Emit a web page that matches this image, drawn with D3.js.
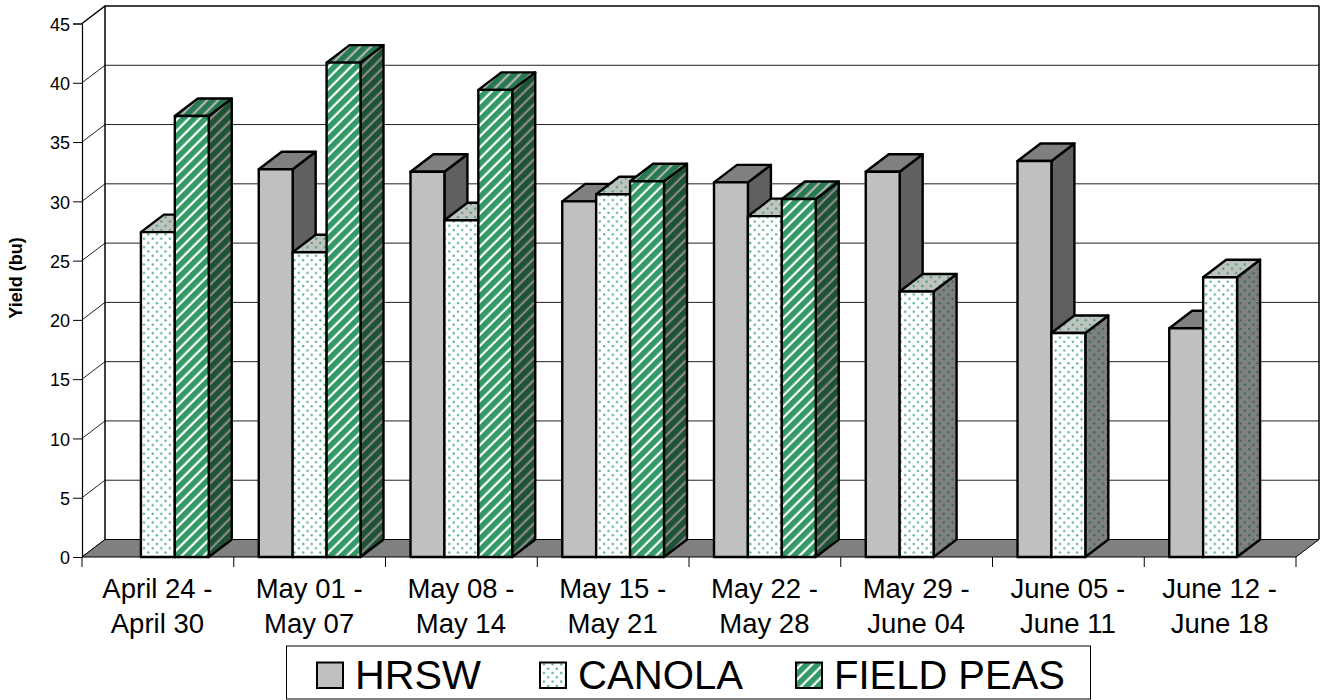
<!DOCTYPE html>
<html>
<head>
<meta charset="utf-8">
<script src="https://cdn.jsdelivr.net/npm/d3@7"></script>
<style>
  body { margin: 0; background: #fff; }
  text { font-family: "Liberation Sans", Arial, sans-serif; fill: #000; }
</style>
</head>
<body>
<svg id="chart" width="1320" height="700"></svg>
<script>
// Values
const categories = [
    ['April 24 -', 'April 30'], ['May 01 -', 'May 07'], ['May 08 -', 'May 14'], ['May 15 -', 'May 21'],
    ['May 22 -', 'May 28'], ['May 29 -', 'June 04'], ['June 05 -', 'June 11'], ['June 12 -', 'June 18']
];
const seriesNames = ['HRSW', 'CANOLA', 'FIELD PEAS'];
const hrsw = [null, 32.7, 32.5, 30, 31.6, 32.5, 33.4, 19.3];
const canola = [27.4, 25.7, 28.4, 30.6, 28.75, 22.4, 18.9, 23.6];
const fieldPeas = [37.2, 41.7, 39.4, 31.7, 30.2, null, null, null];
const yTicks = [0, 5, 10, 15, 20, 25, 30, 35, 40, 45];

const seriesValues = [hrsw, canola, fieldPeas];

const svg = d3.select('#chart');
const defs = svg.append('defs');

// Offset of the back plane from the front plane
const depthX = 23;
const depthY = 17.5;

const x = d3.scaleBand().domain(d3.range(categories.length)).range([82, 1296]);
const y = d3.scaleLinear().domain([0, 45]).range([557, 23.5]);
const inner = d3.scaleBand().domain(d3.range(seriesNames.length)).range([25, x.bandwidth() - 25]);

// Fill patterns
function dotPattern(id, bg, dot) {
    const p = defs.append('pattern').attr('id', id)
        .attr('patternUnits', 'userSpaceOnUse').attr('width', 8.6).attr('height', 8.6);
    p.append('rect').attr('width', 8.6).attr('height', 8.6).attr('fill', bg);
    [[2.15, 2.15], [6.45, 6.45]].forEach(c => {
        p.append('circle').attr('cx', c[0]).attr('cy', c[1]).attr('r', 1.15).attr('fill', dot);
    });
}
function stripePattern(id, bg, stripe) {
    const p = defs.append('pattern').attr('id', id)
        .attr('patternUnits', 'userSpaceOnUse').attr('width', 7.8).attr('height', 7.8)
        .attr('patternTransform', 'rotate(45)');
    p.append('rect').attr('width', 7.8).attr('height', 7.8).attr('fill', bg);
    p.append('rect').attr('width', 5.6).attr('height', 7.8).attr('fill', stripe);
}
dotPattern('canolaFront', '#ffffff', '#4fae80');
dotPattern('canolaTop', '#bfc4c0', '#4f9a72');
dotPattern('canolaSide', '#808080', '#2c6e4c');
stripePattern('peasFront', '#ffffff', '#339966');
stripePattern('peasTop', '#b4b4b4', '#277a50');
stripePattern('peasSide', '#8a8a8a', '#1d5235');

const fills = [
    { front: '#c0c0c0', top: '#808080', side: '#606060' },
    { front: 'url(#canolaFront)', top: 'url(#canolaTop)', side: 'url(#canolaSide)' },
    { front: 'url(#peasFront)', top: 'url(#peasTop)', side: 'url(#peasSide)' }
];

const x0 = x.range()[0];
const x1 = x.range()[1];
const y0 = y(0);

// Gridlines along the left and back walls
yTicks.forEach(t => {
    svg.append('path')
        .attr('d', `M${x0},${y(t)}L${x0 + depthX},${y(t) - depthY}L${x1 + depthX},${y(t) - depthY}`)
        .attr('fill', 'none').attr('stroke', t === 45 ? '#000' : '#222')
        .attr('stroke-width', t === 45 ? 1.5 : 1);
});

// Wall edges
svg.append('path')
    .attr('d', `M${x0 + depthX},${y(45) - depthY}V${y0 - depthY}`)
    .attr('stroke', '#000').attr('stroke-width', 1.5);
svg.append('path')
    .attr('d', `M${x1 + depthX},${y(45) - depthY}V${y0 - depthY}`)
    .attr('stroke', '#000').attr('stroke-width', 1.5);

// Floor
svg.append('path')
    .attr('d', `M${x0},${y0}L${x0 + depthX},${y0 - depthY}H${x1 + depthX}L${x1},${y0}Z`)
    .attr('fill', '#808080');
svg.append('path')
    .attr('d', `M${x0},${y0}L${x0 + depthX},${y0 - depthY}H${x1 + depthX}L${x1},${y0}`)
    .attr('fill', 'none').attr('stroke', '#000').attr('stroke-width', 1);

// Bars, left to right so nearer faces overlap
categories.forEach((c, i) => {
    seriesValues.forEach((values, s) => {
        const v = values[i];
        if (v === null) return;
        const left = x(i) + inner(s);
        const right = left + inner.bandwidth();
        const top = y(v);
        const g = svg.append('g').attr('stroke', '#000').attr('stroke-width', 2.4).attr('stroke-linejoin', 'round');
        g.append('path').attr('fill', fills[s].side)
            .attr('d', `M${right},${top}L${right + depthX},${top - depthY}V${y0 - depthY}L${right},${y0}Z`);
        g.append('path').attr('fill', fills[s].top)
            .attr('d', `M${left},${top}L${left + depthX},${top - depthY}H${right + depthX}L${right},${top}Z`);
        g.append('rect').attr('fill', fills[s].front)
            .attr('x', left).attr('y', top)
            .attr('width', inner.bandwidth()).attr('height', y0 - top);
    });
});

// Y axis
const yAxis = svg.append('g').attr('transform', `translate(${x0},0)`)
    .call(d3.axisLeft(y).tickValues(yTicks).tickSize(9).tickPadding(3).tickFormat(d3.format('d')));
yAxis.select('.domain').attr('stroke', '#000').attr('stroke-width', 1.2);
yAxis.selectAll('.tick line').attr('stroke', '#000');
yAxis.selectAll('text').attr('font-size', 18).attr('font-family', null).attr('fill', '#000').attr('dy', '0.37em');

// X axis line and ticks at the category boundaries
svg.append('path').attr('d', `M${x0},${y0}H${x1}`).attr('stroke', '#000').attr('stroke-width', 1);
d3.range(categories.length + 1).forEach(i => {
    const tx = x0 + i * x.step();
    svg.append('line').attr('x1', tx).attr('x2', tx).attr('y1', y0).attr('y2', y0 + 10)
        .attr('stroke', '#000').attr('stroke-width', 1);
});

// Two line category labels
categories.forEach((c, i) => {
    const cx = x(i) + x.bandwidth() / 2 - 0.5;
    c.forEach((line, k) => {
        svg.append('text').attr('x', cx).attr('y', 598 + k * 35)
            .attr('text-anchor', 'middle').attr('font-size', 27.5).text(line);
    });
});

// Y axis title
svg.append('text')
    .attr('transform', 'translate(22,278) rotate(-90)')
    .attr('text-anchor', 'middle').attr('font-size', 18).attr('font-weight', 'bold')
    .text('Yield (bu)');

// Legend
svg.append('rect').attr('x', 286.5).attr('y', 646).attr('width', 804).attr('height', 53)
    .attr('fill', '#fff').attr('stroke', '#000').attr('stroke-width', 1);
const legendX = [317, 540, 796];
const legendTextWidth = [126, 165, 231];
seriesNames.forEach((name, s) => {
    svg.append('rect').attr('x', legendX[s]).attr('y', 662.5).attr('width', 26).attr('height', 25.5)
        .attr('fill', fills[s].front).attr('stroke', '#000').attr('stroke-width', 2);
    svg.append('text').attr('x', legendX[s] + 38).attr('y', 689)
        .attr('font-size', 41)
        .attr('textLength', legendTextWidth[s]).attr('lengthAdjust', 'spacingAndGlyphs')
        .text(name);
});
</script>
</body>
</html>
